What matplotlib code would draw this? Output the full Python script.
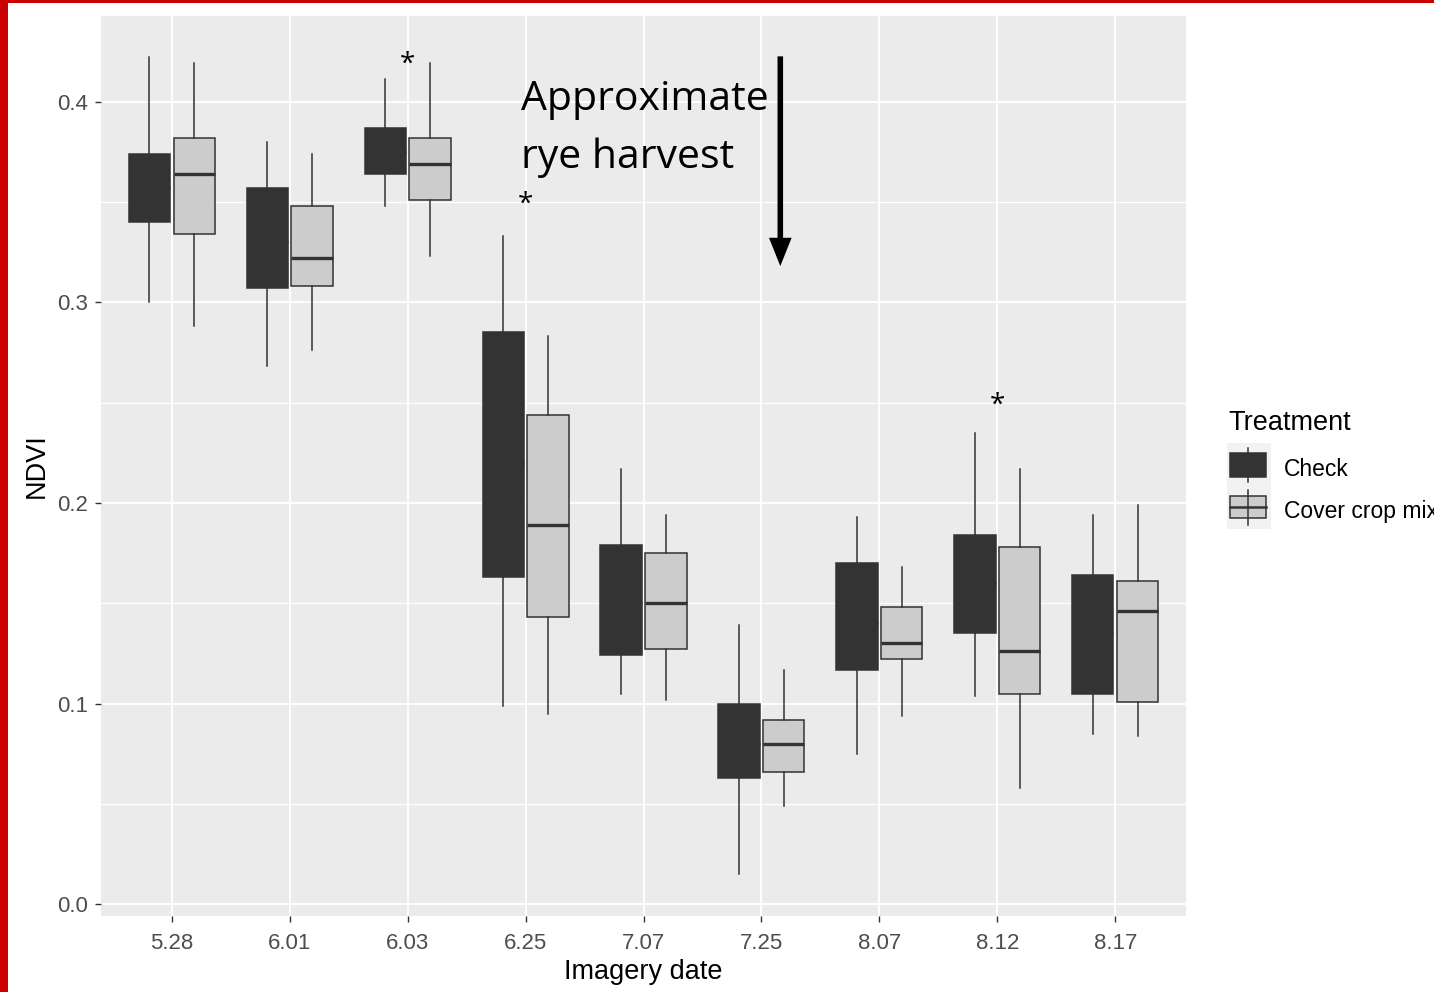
import matplotlib
matplotlib.use("Agg")
import matplotlib.pyplot as plt
from matplotlib.patches import Rectangle, FancyArrowPatch
from matplotlib.lines import Line2D

# box stats (NDVI)
dates = ['5.28', '6.01', '6.03', '6.25', '7.07', '7.25', '8.07', '8.12', '8.17']

check_whislo = [0.300, 0.268, 0.348, 0.099, 0.105, 0.015, 0.075, 0.104, 0.085]
check_q1     = [0.340, 0.307, 0.364, 0.163, 0.124, 0.063, 0.117, 0.135, 0.105]
check_med    = [0.357, 0.330, 0.375, 0.220, 0.150, 0.080, 0.140, 0.160, 0.135]
check_q3     = [0.374, 0.357, 0.387, 0.285, 0.179, 0.100, 0.170, 0.184, 0.164]
check_whishi = [0.422, 0.380, 0.411, 0.333, 0.217, 0.139, 0.193, 0.235, 0.194]

cover_whislo = [0.288, 0.276, 0.323, 0.095, 0.102, 0.049, 0.094, 0.058, 0.084]
cover_q1     = [0.334, 0.308, 0.351, 0.143, 0.127, 0.066, 0.122, 0.105, 0.101]
cover_med    = [0.364, 0.322, 0.369, 0.189, 0.150, 0.080, 0.130, 0.126, 0.146]
cover_q3     = [0.382, 0.348, 0.382, 0.244, 0.175, 0.092, 0.148, 0.178, 0.161]
cover_whishi = [0.419, 0.374, 0.419, 0.283, 0.194, 0.117, 0.168, 0.217, 0.199]

# significance marks
star_dates = ['6.03', '6.25', '8.12']
star_y = [0.415, 0.345, 0.245]

yticks = [0.0, 0.1, 0.2, 0.3, 0.4]

def make_stats(lo, q1, med, q3, hi):
    return [dict(whislo=lo[i], q1=q1[i], med=med[i], q3=q3[i], whishi=hi[i], fliers=[])
            for i in range(len(lo))]

edge = '#333333'
fig = plt.figure(figsize=(14.34, 9.92), dpi=100)
ax = fig.add_axes([101/1434, 1 - 916/992, 1085/1434, 900/992])
ax.set_facecolor('#EBEBEB')

pos = list(range(1, len(dates) + 1))
for stats, fill, off in [(make_stats(check_whislo, check_q1, check_med, check_q3, check_whishi), '#333333', -0.19),
                         (make_stats(cover_whislo, cover_q1, cover_med, cover_q3, cover_whishi), '#CCCCCC', 0.19)]:
    ax.bxp(stats, positions=[p + off for p in pos], widths=0.35, patch_artist=True,
           showcaps=False, showfliers=False, manage_ticks=False,
           boxprops=dict(facecolor=fill, edgecolor=edge, linewidth=1.1),
           whiskerprops=dict(color=edge, linewidth=1.1),
           medianprops=dict(color=edge, linewidth=2.4, solid_capstyle='butt'))

ax.set_xlim(0.4, 9.6)
ax.set_ylim(-0.0058, 0.4426)
ax.set_xticks(pos)
ax.set_xticklabels(dates)
ax.set_yticks(yticks)
ax.set_yticklabels(['%.1f' % v for v in yticks])
ax.set_yticks([0.05, 0.15, 0.25, 0.35], minor=True)
ax.tick_params(axis='y', which='minor', length=0)
ax.grid(True, which='major', color='white', linewidth=1.3)
ax.grid(True, which='minor', axis='y', color='white', linewidth=0.9)
ax.set_axisbelow(True)
for s in ax.spines.values():
    s.set_visible(False)
ax.tick_params(which='major', length=4.5, width=1.0, color=edge, labelcolor='#4D4D4D',
               labelsize=16, pad=5)
ax.tick_params(axis='x', which='major', pad=8)
for lab in ax.get_xticklabels() + ax.get_yticklabels():
    lab.set_family('Liberation Sans')

ax.set_xlabel('Imagery date', fontsize=19.5, family='Liberation Sans', color='black')
ax.set_ylabel('NDVI', fontsize=19.5, family='Liberation Sans', color='black')
ax.xaxis.set_label_coords(0.5, -0.062)
ax.xaxis.label.set_va('center')
ax.yaxis.set_label_coords(-0.059, 0.5)
ax.yaxis.label.set_va('center')
ax.yaxis.label.set_ha('center')

for d, y in zip(star_dates, star_y):
    ax.text(dates.index(d) + 1, y, '*', ha='center', va='baseline', fontsize=20,
            family='Open Sans', color='black')

# harvest note and arrow
ax.text(3.96, 0.3958, 'Approximate', fontsize=29.5, family='Open Sans', va='baseline', ha='left')
ax.text(3.96, 0.3670, 'rye harvest', fontsize=29.5, family='Open Sans', va='baseline', ha='left')
arr = FancyArrowPatch((6.16, 0.4225), (6.16, 0.3180), arrowstyle='-|>,head_length=0.65,head_width=0.26',
                      mutation_scale=20, linewidth=4.0, color='black', shrinkA=0, shrinkB=0,
                      joinstyle='miter', capstyle='butt')
ax.add_patch(arr)

# overlay in pixel coordinates for legend and frame
ov = fig.add_axes([0, 0, 1, 1])
ov.set_xlim(0, 1434)
ov.set_ylim(992, 0)
ov.axis('off')

ov.text(1228, 430, 'Treatment', fontsize=19.5, family='Liberation Sans', va='baseline', ha='left')
ov.add_patch(Rectangle((1227, 443), 44, 86, facecolor='#F2F2F2', edgecolor='none'))
# check key
ov.add_line(Line2D([1248, 1248], [448, 482], color=edge, lw=1.1))
ov.add_patch(Rectangle((1230, 453), 36, 24, facecolor='#333333', edgecolor=edge, lw=1.1))
# cover key
ov.add_line(Line2D([1248, 1248], [490, 525], color=edge, lw=1.1))
ov.add_patch(Rectangle((1230, 496), 36, 22, facecolor='#CCCCCC', edgecolor=edge, lw=1.1))
ov.add_line(Line2D([1230, 1266], [507, 507], color=edge, lw=1.8))
ov.text(1284, 476, 'Check', fontsize=16.5, family='Liberation Sans', va='baseline', ha='left')
ov.text(1284, 518, 'Cover crop mix', fontsize=16.5, family='Liberation Sans', va='baseline', ha='left')

# red frame on left and top
ov.add_patch(Rectangle((0, 0), 8, 992, facecolor='#CC0000', edgecolor='none'))
ov.add_patch(Rectangle((0, 0), 1434, 3, facecolor='#CC0000', edgecolor='none'))

fig.savefig('out.png', dpi=100)
